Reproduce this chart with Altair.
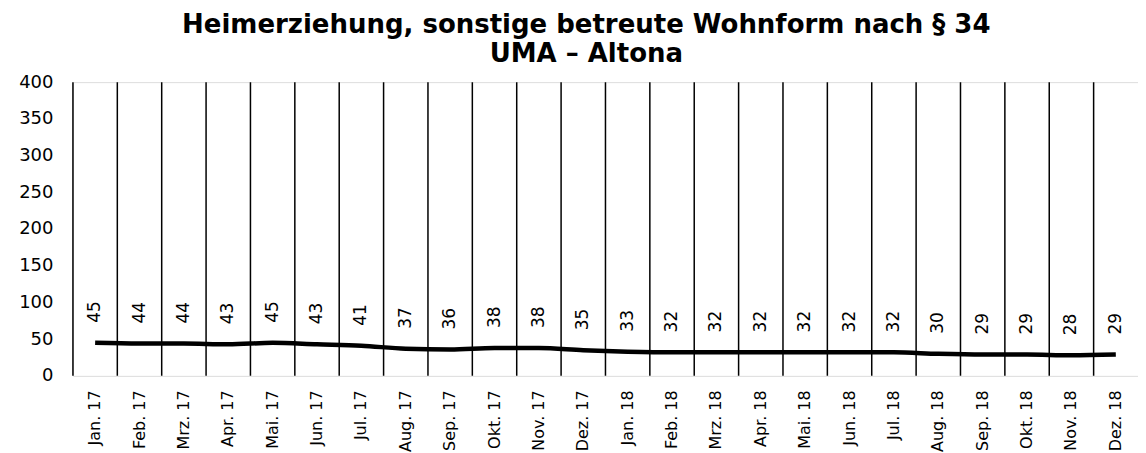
import altair as alt
import pandas as pd

months = ["Jan. 17", "Feb. 17", "Mrz. 17", "Apr. 17", "Mai. 17", "Jun. 17", "Jul. 17", "Aug. 17",
          "Sep. 17", "Okt. 17", "Nov. 17", "Dez. 17", "Jan. 18", "Feb. 18", "Mrz. 18", "Apr. 18",
          "Mai. 18", "Jun. 18", "Jul. 18", "Aug. 18", "Sep. 18", "Okt. 18", "Nov. 18", "Dez. 18"]
values = [45, 44, 44, 43, 45, 43, 41, 37, 36, 38, 38, 35, 33, 32, 32, 32, 32, 32, 32, 30, 29, 29, 28, 29]
y_ticks = [0, 50, 100, 150, 200, 250, 300, 350, 400]

df = pd.DataFrame({"Monat": months, "Wert": values})
FONT = "DejaVu Sans"

xscale = alt.Scale(type="band", paddingInner=0, paddingOuter=0)
yscale = alt.Scale(domain=[0, 400], nice=False)

x_axis = alt.Axis(labelAngle=-90, labelAlign="right", labelBaseline="middle",
                  labelFont=FONT, labelFontSize=16, labelColor="black",
                  labelPadding=14, ticks=False, domain=False, grid=False,
                  labelOverlap=False)
y_axis = alt.Axis(values=y_ticks, labelFont=FONT, labelFontSize=18, labelColor="black",
                  labelPadding=20, ticks=False, domain=False, grid=False,
                  labelOverlap=False)

x_enc = alt.X("Monat:N", sort=months, scale=xscale, title=None, axis=x_axis)
y_enc = alt.Y("Wert:Q", scale=yscale, title=None, axis=y_axis)

base = alt.Chart(df)

rules = base.mark_rule(color="black", strokeWidth=1.5).encode(
    x=alt.X("Monat:N", sort=months, scale=xscale, bandPosition=0, title=None, axis=x_axis),
)

line = base.mark_line(color="black", strokeWidth=4.5, interpolate="monotone").encode(
    x=x_enc, y=y_enc
)

labels = base.mark_text(angle=270, align="left", baseline="middle", dx=20,
                        font=FONT, fontSize=17, color="black").encode(
    x=x_enc, y=y_enc, text="Wert:Q",
)

chart = alt.layer(rules, line, labels).properties(
    width=1066, height=294,
    title=alt.TitleParams(["Heimerziehung, sonstige betreute Wohnform nach § 34", "UMA – Altona"],
                          font=FONT, fontSize=26, fontWeight="bold", color="black",
                          anchor="middle", frame="bounds", lineHeight=29, offset=6, dx=8),
    padding={"left": 10, "top": 4, "right": 0, "bottom": 0},
).configure_view(stroke="black", strokeWidth=1.5).configure(background="white")

chart.save("out.html", embed_options={"renderer": "svg", "actions": False})
